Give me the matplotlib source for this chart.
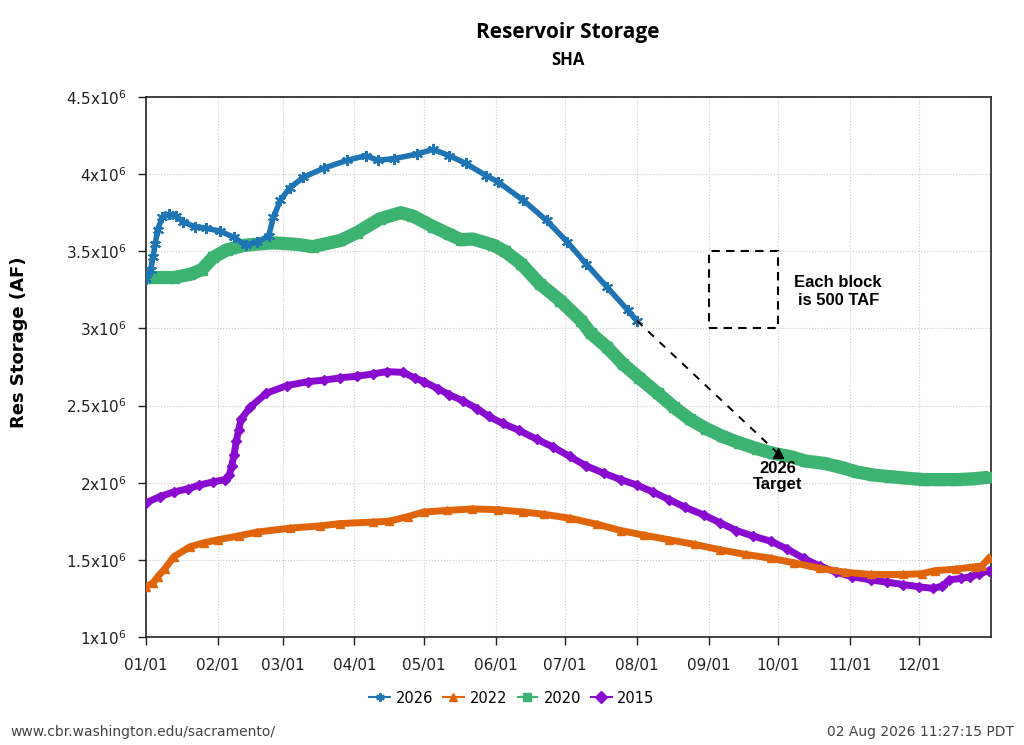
import matplotlib
matplotlib.use("Agg")
import matplotlib.pyplot as plt
from matplotlib.patches import Rectangle
from matplotlib.ticker import FixedLocator, FuncFormatter

# day of year (0 = Jan 1) and storage in million acre-feet
days_2026 = [0, 2, 3, 4, 5, 7, 10, 13, 16, 21, 26, 32, 38, 43, 48, 53, 55, 58, 62, 68,
             77, 87, 95, 100, 107, 117, 124, 131, 138, 147, 152, 163, 173, 182, 190, 199, 208, 212]
vals_2026 = [3.32, 3.38, 3.46, 3.55, 3.64, 3.72, 3.74, 3.73, 3.69, 3.66, 3.65, 3.63, 3.59, 3.54,
             3.56, 3.60, 3.72, 3.83, 3.91, 3.98, 4.04, 4.09, 4.12, 4.09, 4.10, 4.13, 4.16, 4.12,
             4.07, 3.99, 3.95, 3.83, 3.70, 3.56, 3.42, 3.27, 3.12, 3.05]

days_2022 = [0, 3, 5, 8, 12, 19, 25, 31, 40, 48, 62, 75, 84, 98, 105, 113, 120, 130, 141, 152,
             163, 172, 183, 195, 205, 215, 226, 237, 248, 259, 270, 280, 291, 302, 313, 327, 335,
             341, 350, 358, 361, 364]
vals_2022 = [1.326, 1.35, 1.39, 1.44, 1.52, 1.585, 1.61, 1.63, 1.655, 1.68, 1.705, 1.72, 1.735,
             1.745, 1.75, 1.78, 1.81, 1.82, 1.83, 1.825, 1.81, 1.795, 1.77, 1.73, 1.69, 1.66, 1.63,
             1.60, 1.565, 1.535, 1.51, 1.48, 1.445, 1.42, 1.405, 1.405, 1.41, 1.43, 1.44, 1.455,
             1.46, 1.51]

days_2020 = [0, 12, 19, 24, 29, 35, 43, 55, 65, 72, 84, 91, 101, 110, 115, 124, 131, 136, 141,
             150, 155, 162, 170, 179, 188, 192, 199, 206, 213, 221, 228, 235, 242, 249, 256, 264,
             271, 278, 285, 293, 300, 307, 314, 321, 328, 336, 343, 350, 357, 364]
vals_2020 = [3.33, 3.33, 3.35, 3.38, 3.46, 3.51, 3.54, 3.555, 3.545, 3.53, 3.57, 3.62, 3.71, 3.75,
             3.73, 3.66, 3.61, 3.575, 3.58, 3.54, 3.50, 3.42, 3.29, 3.18, 3.05, 2.97, 2.88, 2.77,
             2.68, 2.58, 2.49, 2.41, 2.35, 2.30, 2.26, 2.22, 2.19, 2.17, 2.14, 2.125, 2.10, 2.07,
             2.05, 2.04, 2.03, 2.02, 2.02, 2.02, 2.025, 2.035]

days_2015 = [0, 6, 12, 18, 23, 29, 34, 36, 37, 38, 39, 40, 41, 45, 52, 61, 70, 77, 84, 91, 98,
             104, 111, 116, 120, 126, 131, 137, 143, 148, 154, 161, 169, 176, 183, 190, 198, 205,
             212, 219, 226, 233, 241, 248, 255, 262, 270, 277, 284, 291, 298, 305, 313, 320, 327,
             334, 340, 344, 347, 352, 356, 360, 364]
vals_2015 = [1.87, 1.91, 1.94, 1.96, 1.985, 2.005, 2.02, 2.05, 2.11, 2.18, 2.27, 2.34, 2.41, 2.49,
             2.58, 2.63, 2.655, 2.665, 2.68, 2.69, 2.705, 2.72, 2.715, 2.68, 2.655, 2.61, 2.57,
             2.53, 2.48, 2.43, 2.385, 2.34, 2.28, 2.23, 2.17, 2.11, 2.06, 2.02, 1.985, 1.94, 1.89,
             1.84, 1.79, 1.74, 1.69, 1.655, 1.62, 1.57, 1.51, 1.46, 1.42, 1.39, 1.37, 1.355, 1.34,
             1.325, 1.315, 1.33, 1.37, 1.38, 1.39, 1.41, 1.43]

target_days = [212, 273]
target_vals = [3.05, 2.19]

month_days = [0, 31, 59, 90, 120, 151, 181, 212, 243, 273, 304, 334]
month_labels = ["01/01", "02/01", "03/01", "04/01", "05/01", "06/01",
                "07/01", "08/01", "09/01", "10/01", "11/01", "12/01"]
y_ticks = [1.0, 1.5, 2.0, 2.5, 3.0, 3.5, 4.0, 4.5]

M = 1e6

fig = plt.figure(figsize=(10.24, 7.45), dpi=100)
ax = fig.add_axes([0.1426, 0.145, 0.8252, 0.7248])

c26, c22, c20, c15 = "#1f74b4", "#e0650a", "#3cb371", "#8a0bd0"

ax.plot(days_2020, [v * M for v in vals_2020], color=c20, lw=9.5, marker="s", ms=7,
        solid_capstyle="butt", label="2020", zorder=3)
ax.plot(days_2015, [v * M for v in vals_2015], color=c15, lw=5, marker="D", ms=5,
        label="2015", zorder=3)
ax.plot(days_2022, [v * M for v in vals_2022], color=c22, lw=5, marker="^", ms=6,
        label="2022", zorder=3)
ax.plot(days_2026, [v * M for v in vals_2026], color=c26, lw=4, marker=(6, 2, 0), ms=8,
        mew=1.5, label="2026", zorder=4)

ax.plot(target_days, [v * M for v in target_vals], color="black", ls=(0, (4, 4)), lw=1.4,
        zorder=5)
ax.plot(target_days[-1], target_vals[-1] * M, marker="^", color="black", ms=7, zorder=6)
ax.text(target_days[-1], 2.14 * M, "2026\nTarget", ha="center", va="top", fontsize=12,
        fontweight="bold", family="Liberation Sans", linespacing=1.1, zorder=6)

ax.add_patch(Rectangle((243, 3.0 * M), 30, 0.5 * M, fill=False, ec="black", lw=1.5,
                       ls=(0, (4, 3)), zorder=5))
ax.text(299, 3.24 * M, "Each block\nis 500 TAF", ha="center", va="center", fontsize=12,
        fontweight="bold", family="Liberation Sans", linespacing=1.2)

ax.set_xlim(0, 365)
ax.set_ylim(1.0 * M, 4.5 * M)
ax.xaxis.set_major_locator(FixedLocator(month_days))
ax.set_xticklabels(month_labels)
ax.yaxis.set_major_locator(FixedLocator([v * M for v in y_ticks]))


def fmt(v, pos):
    s = "%g" % (v / M)
    return s + r"x10$^{6}$"


ax.yaxis.set_major_formatter(FuncFormatter(fmt))
ax.tick_params(axis="both", labelsize=11, length=6, width=1, colors="#222222", pad=8)
ax.tick_params(axis="x", pad=9)
ax.grid(True, color="#cccccc", ls=":", lw=0.8)
for s in ax.spines.values():
    s.set_linewidth(1.2)
    s.set_color("#222222")

ax.set_ylabel("Res Storage (AF)", fontsize=13, fontweight="bold", family="DejaVu Sans")
ax.yaxis.set_label_coords(-0.14, 0.546)
fig.text(0.5545, 0.956, "Reservoir Storage", ha="center", va="center", fontsize=15,
         fontweight="bold", family="Open Sans")
fig.text(0.5545, 0.919, "SHA", ha="center", va="center", fontsize=12,
         fontweight="bold", family="Open Sans")

handles, labels = ax.get_legend_handles_labels()
order = [labels.index(k) for k in ["2026", "2022", "2020", "2015"]]
leg = fig.legend([handles[i] for i in order], [labels[i] for i in order],
                 loc="center", bbox_to_anchor=(0.5, 0.063), ncol=4, frameon=False,
                 fontsize=10.5, handlelength=1.4, columnspacing=0.7, handletextpad=0.4)
for h in leg.legend_handles:
    h.set_linewidth(1.5)
    h.set_markersize(6)

fig.text(0.01, 0.018, "www.cbr.washington.edu/sacramento/", fontsize=10, color="#444444",
         ha="left", va="center")
fig.text(0.99, 0.018, "02 Aug 2026 11:27:15 PDT", fontsize=10, color="#444444",
         ha="right", va="center")

fig.savefig("out.png", dpi=100)
